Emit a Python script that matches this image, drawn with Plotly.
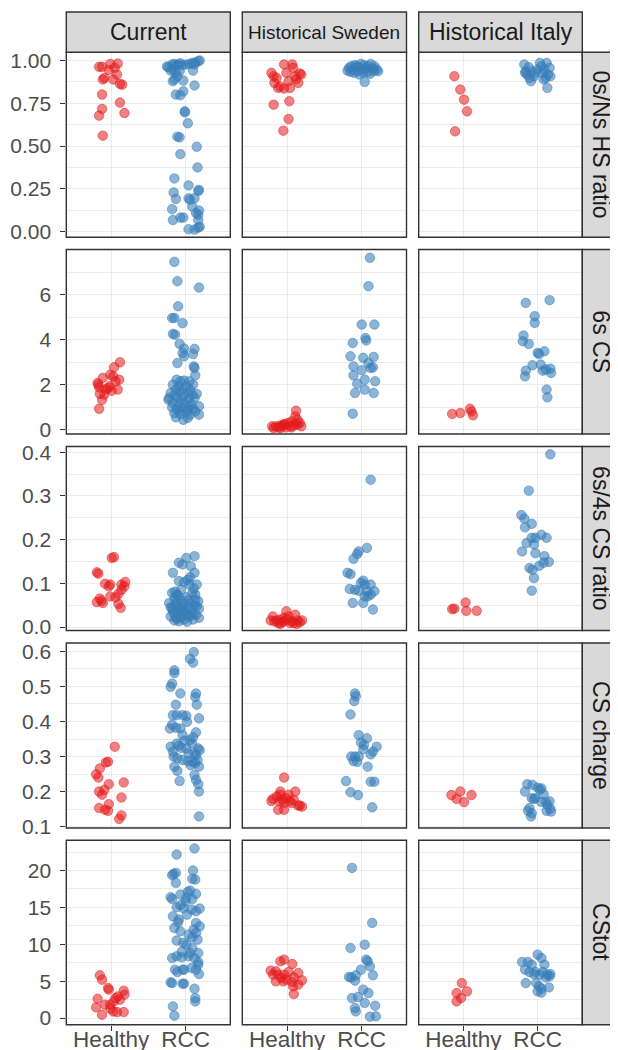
import plotly.graph_objects as go

# ---------------- categories ----------------
cohorts = ["Current", "Historical Sweden", "Historical Italy"]
measures = ["0s/Ns HS ratio", "6s CS", "6s/4s CS ratio", "CS charge", "CStot"]
groups = ["Healthy", "RCC"]

# ---------------- tick labels ----------------
hs_ticks = [0, 0.25, 0.5, 0.75, 1.0]
hs_labels = ["0.00", "0.25", "0.50", "0.75", "1.00"]
cs6_ticks = [0, 2, 4, 6]
cs6_labels = ["0", "2", "4", "6"]
r64_ticks = [0, 0.1, 0.2, 0.3, 0.4]
r64_labels = ["0.0", "0.1", "0.2", "0.3", "0.4"]
chg_ticks = [0.1, 0.2, 0.3, 0.4, 0.5, 0.6]
chg_labels = ["0.1", "0.2", "0.3", "0.4", "0.5", "0.6"]
tot_ticks = [0, 5, 10, 15, 20]
tot_labels = ["0", "5", "10", "15", "20"]

# ---------------- data: values (y) and jitter offsets (dx) ----------------
# 0s/Ns HS ratio
hs_cur_h_y = [0.963,0.963,0.980,0.982,0.945,0.957,0.889,0.898,0.889,0.918,0.863,0.859,0.801,0.717,0.678,0.754,0.693,0.561]
hs_cur_h_dx = [-0.16,-0.12,-0.01,0.09,-0.03,0.05,-0.11,-0.09,0.03,0.08,0.12,0.15,-0.12,-0.12,-0.16,0.12,0.18,-0.11]
hs_cur_r_y = [0.965,0.961,0.977,0.980,0.973,0.977,0.984,0.973,0.977,0.980,0.986,0.988,0.996,1.000,0.977,0.947,0.928,0.938,0.941,0.908,
              0.941,0.879,0.883,0.889,0.854,0.820,0.801,0.797,0.703,0.697,0.633,0.555,0.551,0.496,0.453,0.375,0.311,0.270,0.229,0.238,
              0.244,0.191,0.195,0.186,0.195,0.146,0.131,0.123,0.109,0.098,0.082,0.082,0.068,0.068,0.023,0.014,0.012,0.029]
hs_cur_r_dx = [-0.25,-0.23,-0.18,-0.15,-0.12,-0.09,-0.07,-0.04,0.01,0.06,0.09,0.13,0.17,0.19,0.12,-0.17,-0.13,-0.08,-0.20,-0.11,
               0.10,-0.17,-0.03,-0.15,0.12,-0.03,-0.13,-0.07,-0.01,-0.01,0.03,-0.11,-0.08,0.15,-0.07,0.16,-0.15,0.04,-0.16,0.17,
               0.18,-0.13,0.04,0.06,0.12,0.09,-0.18,0.18,0.14,0.17,-0.07,-0.03,-0.17,0.17,0.17,0.04,0.12,0.19]
hs_swe_h_y = [0.928,0.908,0.869,0.898,0.840,0.848,0.977,0.928,0.879,0.840,0.977,0.957,0.908,0.889,0.869,0.924,0.918,0.836,0.742,0.762,0.658,0.590]
hs_swe_h_dx = [-0.21,-0.18,-0.17,-0.14,-0.12,-0.09,-0.04,-0.01,0.02,0.04,0.07,0.08,0.11,0.12,0.15,0.17,0.19,-0.04,-0.18,0.03,0.02,-0.05]
hs_swe_r_y = [0.941,0.957,0.967,0.947,0.973,0.938,0.961,0.980,0.947,0.973,0.957,0.934,0.967,0.980,0.953,0.967,0.947,0.938,0.928,0.918,0.875,0.922,0.938,0.934,0.928,0.967]
hs_swe_r_dx = [-0.19,-0.17,-0.14,-0.12,-0.09,-0.06,-0.04,-0.01,0.01,0.03,0.06,0.08,0.09,0.12,0.15,0.17,0.20,0.22,-0.10,-0.03,0.04,0.11,0.16,-0.15,0.02,-0.07]
hs_ita_h_y = [0.908,0.830,0.771,0.703,0.586]
hs_ita_h_dx = [-0.12,-0.04,0.01,0.05,-0.11]
hs_ita_r_y = [0.977,0.938,0.918,0.961,0.898,0.879,0.938,0.908,0.928,0.947,0.986,0.967,0.928,0.947,0.898,0.986,0.918,0.957,0.908,0.840,0.928,0.889]
hs_ita_r_dx = [-0.18,-0.16,-0.14,-0.12,-0.11,-0.09,-0.08,-0.05,-0.03,0.0,0.03,0.05,0.07,0.09,0.11,0.12,0.14,0.16,0.17,0.13,-0.17,0.08]

# 6s CS
cs6_cur_h_y = [0.93,2.00,1.88,2.07,1.33,1.56,1.59,2.30,1.85,1.73,2.44,2.77,2.99,2.15,2.22,1.78,2.37,1.93,1.78]
cs6_cur_h_dx = [-0.16,-0.17,-0.16,-0.18,-0.12,-0.09,-0.15,-0.11,-0.04,0.01,-0.01,0.04,0.12,0.06,0.11,0.09,0.03,-0.02,-0.07]
cs6_cur_r_y = [7.45,6.59,6.31,5.48,4.96,4.96,4.73,4.25,4.22,3.81,3.60,3.41,3.59,3.36,3.26,2.96,2.81,2.74,2.41,
               2.22,2.15,2.18,2.15,2.00,2.00,1.93,1.93,1.78,1.78,1.78,1.59,1.63,1.67,1.63,1.56,1.53,1.48,1.33,1.41,
               1.29,1.38,1.41,1.19,1.14,1.19,1.14,1.04,0.99,0.93,0.96,0.89,0.93,0.74,0.70,0.79,0.67,0.67,0.55,0.44,
               0.52,0.84,0.81,1.04,1.41]
cs6_cur_r_dx = [-0.15,-0.11,0.18,-0.10,-0.18,-0.15,-0.04,-0.17,-0.14,-0.08,-0.02,-0.04,0.12,0.10,-0.02,-0.11,0.11,0.12,0.13,
                -0.12,-0.07,-0.02,0.05,0.10,-0.17,-0.09,0.01,-0.13,-0.04,0.06,0.15,-0.20,-0.08,0.03,0.09,-0.15,-0.03,-0.23,-0.11,
                -0.06,0.04,0.12,-0.17,-0.09,-0.01,0.08,0.18,-0.18,-0.12,-0.04,0.03,0.10,-0.15,-0.07,0.01,0.06,0.18,-0.13,-0.03,
                0.03,-0.08,0.13,0.05,-0.22]
cs6_swe_h_y = [0.84,0.59,0.44,0.37,0.30,0.22,0.19,0.15,0.15,0.07,0.07,0.15,0.30,0.15,0.10,0.15,0.19,0.22,0.25,0.10,0.10]
cs6_swe_h_dx = [0.12,0.11,0.14,0.06,0.01,-0.04,-0.09,-0.15,-0.20,-0.18,-0.09,0.19,0.17,0.04,-0.02,-0.07,0.09,0.14,-0.04,0.06,-0.12]
cs6_swe_r_y = [7.63,6.37,4.67,4.67,4.07,3.96,3.85,3.26,3.19,3.23,2.81,2.64,2.96,2.74,2.77,2.41,2.04,2.22,2.15,1.78,1.63,1.63,0.71]
cs6_swe_r_dx = [0.11,0.09,0.0,0.17,0.05,0.06,-0.12,-0.15,0.02,0.16,-0.11,0.0,0.09,0.12,0.15,-0.11,-0.06,0.04,0.18,0.04,-0.09,0.16,-0.12]
cs6_ita_h_y = [0.70,0.74,0.93,0.81,0.64]
cs6_ita_h_dx = [-0.15,-0.04,0.09,0.11,0.13]
cs6_ita_r_y = [5.63,5.75,5.04,4.74,4.18,3.93,3.81,3.41,3.36,3.48,2.86,2.89,2.62,2.37,2.62,2.71,2.52,2.67,1.78,1.44]
cs6_ita_r_dx = [-0.16,0.16,-0.04,-0.04,-0.19,-0.20,-0.12,0.0,0.02,0.09,-0.07,0.04,-0.16,-0.17,0.07,0.17,0.18,0.11,0.12,0.13]

# 6s/4s CS ratio
r64_cur_h_y = [0.125,0.122,0.158,0.160,0.099,0.093,0.097,0.097,0.103,0.093,0.085,0.076,0.070,0.060,0.057,0.055,0.053,0.044,0.068,0.065]
r64_cur_h_dx = [-0.19,-0.17,0.01,0.04,-0.08,-0.03,-0.01,0.14,0.19,0.18,0.14,0.10,-0.01,-0.13,-0.19,-0.11,0.10,0.13,0.06,-0.15]
r64_cur_r_y = [0.162,0.158,0.147,0.143,0.139,0.124,0.124,0.114,0.105,0.103,0.097,0.078,0.074,0.108,0.097,0.078,0.074,0.085,0.066,0.063,
               0.068,0.059,0.055,0.051,0.053,0.055,0.050,0.044,0.040,0.042,0.045,0.042,0.032,0.030,0.034,0.032,0.028,0.024,0.021,0.022,
               0.024,0.021,0.015,0.013,0.017,0.017,0.037,0.028,0.040,0.063,0.059,0.047,
               0.088,0.072,0.048,0.036,0.026,0.019,0.061,0.081,0.012,0.045]
r64_cur_r_dx = [0.12,0.01,-0.09,-0.04,0.07,0.12,-0.17,0.06,-0.09,-0.02,0.15,-0.18,-0.12,0.03,0.05,0.09,0.13,-0.06,-0.15,-0.07,
                0.01,0.17,-0.22,-0.13,-0.03,0.06,0.12,-0.18,-0.11,-0.04,0.04,0.18,-0.16,-0.08,-0.01,0.09,0.14,-0.20,-0.13,-0.06,
                0.04,0.18,-0.15,-0.09,-0.02,0.10,-0.17,0.01,0.08,0.13,-0.12,-0.07,
                0.11,-0.10,0.15,-0.05,0.07,-0.11,0.03,-0.14,0.02,-0.20]
r64_swe_h_y = [0.024,0.015,0.017,0.013,0.036,0.017,0.013,0.028,0.015,0.015,0.013,0.009,0.011,0.009,0.009,0.011,0.015,0.021,0.007,0.007,0.024]
r64_swe_h_dx = [-0.19,-0.14,-0.09,-0.04,-0.01,0.01,0.06,0.11,0.14,0.20,-0.17,-0.12,-0.07,0.04,0.09,0.17,-0.22,-0.04,-0.09,0.13,0.02]
r64_swe_r_y = [0.337,0.181,0.173,0.167,0.156,0.124,0.121,0.106,0.101,0.097,0.097,0.087,0.085,0.083,0.082,0.082,0.074,0.070,0.070,0.055,0.055,0.040]
r64_swe_r_dx = [0.12,0.07,-0.04,-0.06,-0.11,-0.19,-0.15,0.02,-0.01,0.04,0.12,-0.16,-0.09,-0.04,0.07,0.17,0.12,0.08,0.04,-0.12,0.02,0.15]
r64_ita_h_y = [0.041,0.042,0.056,0.037,0.037]
r64_ita_h_dx = [-0.15,-0.12,0.03,0.04,0.18]
r64_ita_r_y = [0.395,0.312,0.256,0.248,0.236,0.228,0.173,0.192,0.189,0.204,0.211,0.204,0.204,0.162,0.169,0.147,0.140,0.149,0.135,0.131,0.112,0.083]
r64_ita_r_dx = [0.17,-0.12,-0.22,-0.18,-0.08,-0.17,-0.21,-0.15,-0.05,-0.08,0.05,0.12,-0.03,0.09,-0.03,0.08,0.02,0.15,-0.11,-0.07,-0.05,-0.08]

# CS charge
chg_cur_h_y = [0.328,0.283,0.285,0.266,0.249,0.240,0.221,0.226,0.200,0.205,0.191,0.183,0.153,0.148,0.145,0.164,0.132,0.122]
chg_cur_h_dx = [0.05,-0.07,-0.04,-0.15,-0.20,-0.17,-0.03,0.17,-0.16,-0.09,-0.12,0.14,-0.16,-0.08,-0.04,-0.03,0.14,0.11]
chg_cur_r_y = [0.598,0.579,0.568,0.546,0.538,0.508,0.499,0.480,0.480,0.470,0.448,0.448,0.418,0.418,0.418,0.416,0.391,0.382,0.380,0.399,
               0.409,0.369,0.380,0.361,0.347,0.337,0.323,0.318,0.328,0.314,0.337,0.331,0.323,0.309,0.309,0.304,0.295,0.290,0.287,0.285,
               0.281,0.271,0.271,0.259,0.247,0.233,0.221,0.230,0.200,0.129,
               0.345,0.300,0.275,0.355,0.325,0.290]
chg_cur_r_dx = [0.11,0.06,0.10,-0.15,-0.15,-0.18,-0.20,-0.07,0.14,0.13,-0.13,0.15,-0.17,-0.12,-0.04,0.01,-0.18,-0.13,-0.07,0.02,
                0.18,0.14,-0.21,-0.04,0.06,0.09,0.17,0.19,-0.20,-0.17,-0.12,-0.09,0.01,0.04,0.12,0.14,-0.11,-0.04,0.03,0.09,
                0.13,-0.15,0.18,-0.11,0.12,0.14,0.17,-0.08,0.18,0.18,
                -0.02,-0.16,0.07,0.10,-0.06,0.16]
chg_swe_h_y = [0.240,0.200,0.200,0.179,0.186,0.176,0.181,0.173,0.176,0.172,0.167,0.160,0.157,0.160,0.148,0.148,0.173,0.191,0.167,0.191]
chg_swe_h_dx = [-0.04,-0.09,0.11,-0.19,-0.14,-0.06,-0.01,0.04,0.09,-0.10,-0.04,0.17,0.20,0.15,-0.12,-0.04,-0.21,0.02,0.06,-0.09]
chg_swe_r_y = [0.480,0.472,0.458,0.420,0.361,0.352,0.340,0.333,0.321,0.328,0.314,0.306,0.300,0.300,0.300,0.287,0.285,0.271,0.230,0.228,0.228,0.198,0.190,0.155]
chg_swe_r_dx = [-0.09,-0.08,-0.10,-0.15,-0.04,0.07,-0.01,0.03,0.02,0.20,0.15,0.12,-0.14,-0.09,-0.04,-0.11,-0.06,0.08,-0.21,0.12,0.17,-0.15,-0.05,0.14]
chg_ita_h_y = [0.190,0.179,0.200,0.170,0.190]
chg_ita_h_dx = [-0.16,-0.09,-0.04,0.01,0.11]
chg_ita_r_y = [0.221,0.219,0.200,0.211,0.205,0.209,0.192,0.181,0.179,0.181,0.153,0.145,0.138,0.129,0.170,0.170,0.162,0.172,0.151,0.145,0.143]
chg_ita_r_dx = [-0.14,-0.07,-0.17,0.0,0.03,0.05,0.08,-0.08,-0.05,-0.03,-0.11,-0.13,-0.08,-0.09,0.05,0.11,0.13,0.16,0.17,0.12,0.18]

# CStot
tot_cur_h_y = [5.79,5.20,4.07,3.85,2.62,1.45,0.45,1.81,1.27,2.26,2.71,2.94,3.71,3.17,2.49,0.81,0.81,0.90,1.81]
tot_cur_h_dx = [-0.15,-0.12,-0.04,-0.03,-0.18,-0.20,-0.12,-0.08,-0.01,0.04,0.06,0.09,0.17,0.18,0.12,0.08,0.17,0.03,-0.01]
tot_cur_r_y = [22.17,22.99,19.37,19.55,19.68,20.00,18.87,18.78,18.33,16.38,16.15,16.74,17.10,17.29,16.83,16.15,16.29,15.29,15.02,14.93,
               14.71,14.84,14.48,13.80,13.35,14.03,12.90,12.44,11.76,12.22,11.31,10.95,11.54,10.63,10.50,9.95,9.50,8.82,8.82,8.14,
               8.37,8.24,8.37,8.14,7.24,6.79,6.56,6.56,6.24,6.56,6.56,5.97,4.84,4.75,4.66,4.66,3.98,2.71,2.26,1.58,0.32,
               13.0,15.8,10.2,7.6,12.0,9.0]
tot_cur_r_dx = [-0.12,0.12,-0.18,-0.16,-0.13,0.10,0.09,0.13,-0.13,-0.20,-0.18,-0.07,0.03,0.06,0.14,0.09,0.01,-0.07,-0.12,-0.03,
                0.08,0.19,0.14,-0.17,-0.09,0.02,0.14,0.19,-0.07,-0.15,0.04,0.09,0.14,0.16,-0.12,0.01,0.09,0.06,0.17,-0.18,
                -0.12,-0.05,0.04,0.12,0.17,0.08,0.14,-0.14,-0.11,-0.04,-0.02,0.18,-0.20,-0.18,-0.04,-0.02,0.12,0.13,0.13,-0.17,-0.15,
                -0.10,0.00,-0.03,0.17,0.11,-0.05]
tot_swe_h_y = [7.92,7.69,7.33,6.33,6.43,5.88,5.88,5.88,6.24,6.11,5.43,4.98,5.52,5.11,4.98,4.89,4.30,4.52,3.26,5.20]
tot_swe_h_dx = [-0.04,-0.09,0.07,-0.15,-0.22,-0.19,-0.12,-0.04,0.02,0.15,-0.08,-0.05,0.09,0.20,-0.15,0.07,0.08,0.15,0.09,-0.01]
tot_swe_r_y = [20.36,12.90,9.50,9.95,7.92,7.69,7.01,5.79,5.57,5.52,5.79,5.07,6.56,3.85,3.39,2.71,2.85,2.04,1.36,0.90,1.67,0.18,0.23]
tot_swe_r_dx = [-0.13,0.14,-0.15,0.04,0.06,0.08,0.11,0.15,-0.17,-0.14,-0.08,-0.09,-0.01,0.02,0.09,-0.13,-0.05,0.04,-0.09,-0.08,0.18,0.11,0.19]
tot_ita_h_y = [4.75,3.39,3.62,2.71,2.26]
tot_ita_h_dx = [-0.02,-0.09,0.05,-0.03,-0.09]
tot_ita_r_y = [7.60,7.60,8.60,8.14,7.24,7.24,6.56,6.24,6.24,5.97,5.88,6.24,5.88,5.97,5.66,5.52,4.75,4.75,4.30,3.98,3.62,3.44,4.16]
tot_ita_r_dx = [-0.21,-0.13,0.0,0.05,0.09,-0.08,-0.17,-0.11,-0.03,-0.05,0.03,0.07,0.13,0.17,0.16,0.11,-0.16,-0.02,0.02,0.05,0.0,0.05,0.15]

# ---------------- assemble ----------------
G = globals()
row_keys = ["hs", "cs6", "r64", "chg", "tot"]
col_keys = ["cur", "swe", "ita"]
grp_keys = ["h", "r"]

row_ticks = [(hs_ticks, hs_labels), (cs6_ticks, cs6_labels), (r64_ticks, r64_labels),
             (chg_ticks, chg_labels), (tot_ticks, tot_labels)]
row_minor = [[0.125, 0.375, 0.625, 0.875], [1, 3, 5, 7], [0.05, 0.15, 0.25, 0.35],
             [0.15, 0.25, 0.35, 0.45, 0.55], [2.5, 7.5, 12.5, 17.5, 22.5]]
row_ranges = [[-0.033, 1.048], [-0.19, 8.0], [-0.008, 0.413], [0.096, 0.624], [-0.9, 24.1]]

# ---------------- styling / geometry ----------------
W, H = 618, 1050
FONT = "Liberation Sans, Arial, Helvetica, sans-serif"
colors = {"h": "rgba(228,26,28,0.55)", "r": "rgba(55,126,184,0.58)"}
col_px = [(58.3, 222.3), (234.3, 398.5), (410.7, 574.3)]
row_px = [(44.3, 229.3), (241.5, 426.0), (438.5, 622.5), (635.0, 820.0), (832.3, 1016.7)]
strip_top = (4.0, 44.3)
strip_right = (574.3, 612.5)
BORDER = "#333333"
GRID = "#EBEBEB"


def fx(p):
    return p / W


def fy(p):
    return 1 - p / H


fig = go.Figure()
layout = {}
shapes = []
annotations = []

for ri, rk in enumerate(row_keys):
    for ci, ck in enumerate(col_keys):
        idx = ri * 3 + ci + 1
        xa = "x" if idx == 1 else f"x{idx}"
        ya = "y" if idx == 1 else f"y{idx}"
        for gi, gk in enumerate(grp_keys):
            ys = G[f"{rk}_{ck}_{gk}_y"]
            dxs = G[f"{rk}_{ck}_{gk}_dx"]
            xs = [gi + 1 + d for d in dxs[:len(ys)]]
            fig.add_trace(go.Scatter(
                x=xs, y=ys[:len(xs)], mode="markers", xaxis=xa, yaxis=ya,
                showlegend=False, hoverinfo="skip",
                marker=dict(size=9.5, color=colors[gk],
                            line=dict(width=0.9, color=colors[gk]))))
        x0, x1 = col_px[ci]
        yt, yb = row_px[ri]
        tv, tt = row_ticks[ri]
        layout["xaxis" if idx == 1 else f"xaxis{idx}"] = dict(
            domain=[fx(x0), fx(x1)], anchor=ya, range=[0.4, 2.6],
            tickvals=[1, 2], ticktext=groups,
            showticklabels=(ri == 4), ticks="outside" if ri == 4 else "",
            ticklen=5, tickwidth=1.1, tickcolor=BORDER,
            ticklabelstandoff=-11,
            tickfont=dict(family=FONT, size=22.5, color="#4D4D4D"),
            showgrid=True, gridcolor=GRID, gridwidth=1.4,
            zeroline=False, showline=False, fixedrange=True)
        layout["yaxis" if idx == 1 else f"yaxis{idx}"] = dict(
            domain=[fy(yb), fy(yt)], anchor=xa, range=row_ranges[ri],
            tickvals=tv, ticktext=tt,
            showticklabels=(ci == 0), ticks="outside" if ci == 0 else "",
            ticklen=5, tickwidth=1.1, tickcolor=BORDER,
            ticklabelstandoff=5,
            tickfont=dict(family=FONT, size=21, color="#4D4D4D"),
            showgrid=True, gridcolor=GRID, gridwidth=1.4,
            minor=dict(tickvals=row_minor[ri], showgrid=True, gridcolor=GRID,
                       gridwidth=0.7, ticks=""),
            zeroline=False, showline=False, fixedrange=True)
        shapes.append(dict(type="rect", xref="paper", yref="paper",
                           x0=fx(x0), x1=fx(x1), y0=fy(yb), y1=fy(yt),
                           line=dict(color=BORDER, width=1.4),
                           fillcolor="rgba(0,0,0,0)", layer="above"))

# top strips
strip_sizes = [23, 19, 23]
for ci, name in enumerate(cohorts):
    x0, x1 = col_px[ci]
    shapes.append(dict(type="rect", xref="paper", yref="paper",
                       x0=fx(x0), x1=fx(x1), y0=fy(strip_top[1]), y1=fy(strip_top[0]),
                       line=dict(color=BORDER, width=1.4), fillcolor="#D9D9D9", layer="above"))
    annotations.append(dict(text=name, xref="paper", yref="paper",
                            x=fx((x0 + x1) / 2), y=fy((strip_top[0] + strip_top[1]) / 2),
                            showarrow=False, xanchor="center", yanchor="middle",
                            font=dict(family=FONT, size=strip_sizes[ci], color="#1A1A1A")))

# right strips
for ri, name in enumerate(measures):
    yt, yb = row_px[ri]
    shapes.append(dict(type="rect", xref="paper", yref="paper",
                       x0=fx(strip_right[0]), x1=fx(strip_right[1]), y0=fy(yb), y1=fy(yt),
                       line=dict(color=BORDER, width=1.4), fillcolor="#D9D9D9", layer="above"))
    annotations.append(dict(text=name, xref="paper", yref="paper",
                            x=fx((strip_right[0] + strip_right[1]) / 2), y=fy((yt + yb) / 2),
                            showarrow=False, xanchor="center", yanchor="middle", textangle=90,
                            font=dict(family=FONT, size=23, color="#1A1A1A")))

fig.update_layout(
    width=W, height=H,
    margin=dict(l=0, r=0, t=0, b=0, autoexpand=False),
    paper_bgcolor="white", plot_bgcolor="white",
    shapes=shapes, annotations=annotations,
    showlegend=False,
    **layout)

fig.write_html("out.html")
